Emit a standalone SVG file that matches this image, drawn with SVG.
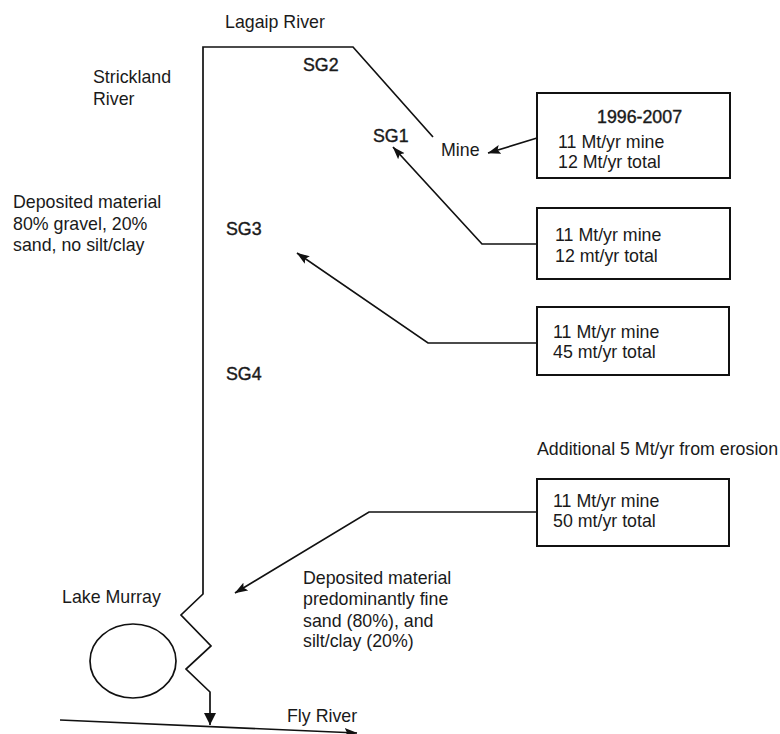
<svg xmlns="http://www.w3.org/2000/svg" width="780" height="734" viewBox="0 0 780 734">
<style>
text{font-family:"Liberation Sans",Arial,sans-serif;font-size:17.8px;fill:#1a1a1a}
.s{stroke:#1a1a1a;stroke-width:.4}
.l{fill:none;stroke:#111;stroke-width:1.7}
.b{fill:#fff;stroke:#111;stroke-width:2}
</style>
<defs><marker id="a" markerUnits="userSpaceOnUse" markerWidth="13" markerHeight="10" refX="12.5" refY="5" orient="auto"><path d="M0 .5L13 5L0 9.500L2.500 5z" fill="#111"/></marker></defs>
<rect width="780" height="734" fill="#fff"/>
<g id="connectors">
<path class="l" d="M433 137L353 47H203V594L181 615L211 646L186 669L210 692V725"/>
<path d="M204 713H216L210 725z" fill="#111"/>
<path class="l" d="M60 720L357 733" marker-end="url(#a)"/>
<path class="l" d="M537 138L488 153" marker-end="url(#a)"/>
<path class="l" d="M537 244H482L393 147" marker-end="url(#a)"/>
<path class="l" d="M537 343H428L297 253" marker-end="url(#a)"/>
<path class="l" d="M537 512H369L235 593" marker-end="url(#a)"/>
</g>
<g id="lagaip"><text x="225" y="28">Lagaip River</text></g>
<g id="strickland"><text x="93" y="83">Strickland</text><text x="93" y="105">River</text></g>
<g id="sg2"><text class="s" x="303" y="71">SG2</text></g>
<g id="sg1"><text class="s" x="373" y="142">SG1</text></g>
<g id="sg3"><text class="s" x="226" y="235">SG3</text></g>
<g id="sg4"><text class="s" x="226" y="380">SG4</text></g>
<g id="mine"><text x="441" y="156">Mine</text></g>
<g id="dep1"><text x="13" y="208">Deposited material</text><text x="13" y="230">80% gravel, 20%</text><text x="13" y="251">sand, no silt/clay</text></g>
<g id="box1"><rect class="b" x="537" y="93" width="193" height="85"/><text class="s" x="597" y="123">1996-2007</text><text x="558" y="148">11 Mt/yr mine</text><text x="558" y="168">12 Mt/yr total</text></g>
<g id="box2"><rect class="b" x="537" y="208" width="193" height="71"/><text x="555" y="241">11 Mt/yr mine</text><text x="555" y="262">12 mt/yr total</text></g>
<g id="box3"><rect class="b" x="537" y="307" width="192" height="68"/><text x="553" y="338">11 Mt/yr mine</text><text x="553" y="358">45 mt/yr total</text></g>
<g id="erosion"><text x="537" y="455">Additional 5 Mt/yr from erosion</text></g>
<g id="box4"><rect class="b" x="537" y="479" width="192" height="67"/><text x="553" y="507">11 Mt/yr mine</text><text x="553" y="527">50 mt/yr total</text></g>
<g id="dep2"><text x="303" y="584">Deposited material</text><text x="303" y="605">predominantly fine</text><text x="303" y="627">sand (80%), and</text><text x="303" y="647">silt/clay (20%)</text></g>
<g id="lake"><text x="62" y="603">Lake Murray</text><ellipse class="l" cx="133" cy="661" rx="43" ry="37"/></g>
<g id="fly"><text x="287" y="722">Fly River</text></g>
</svg>
